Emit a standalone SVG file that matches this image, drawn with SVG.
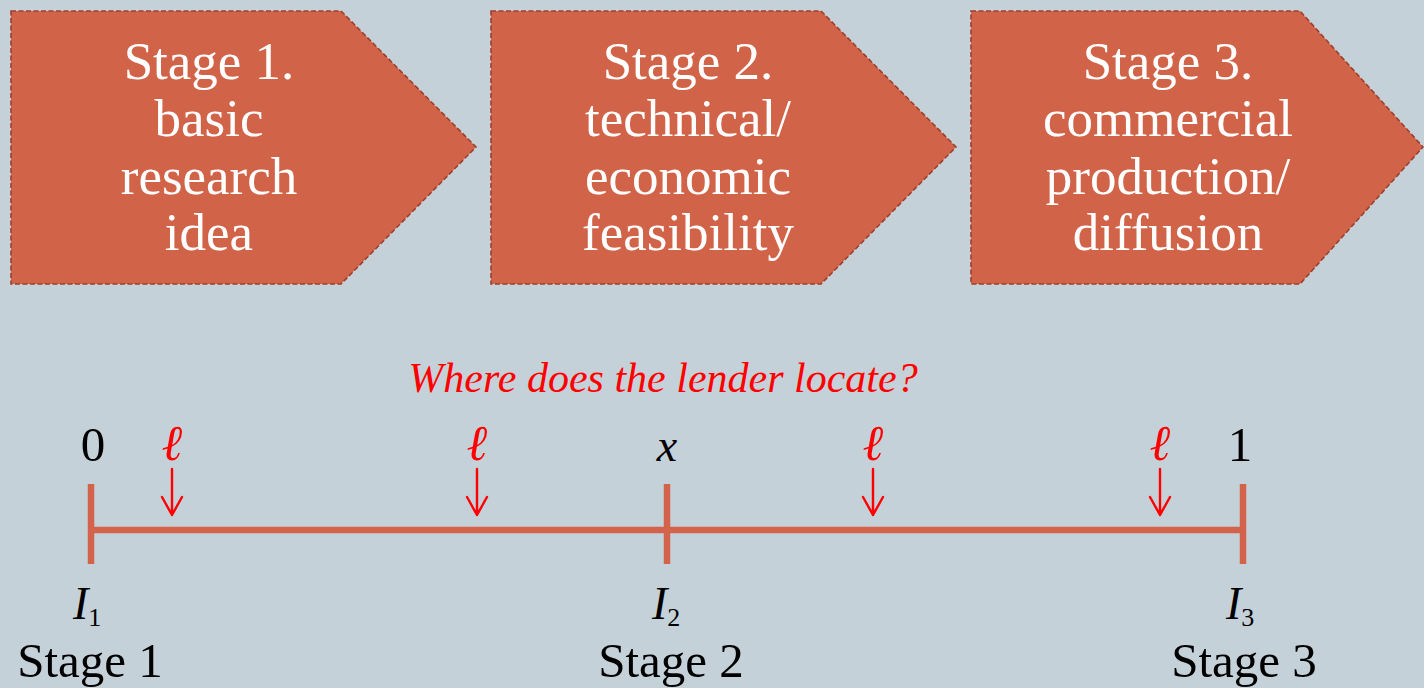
<svg xmlns="http://www.w3.org/2000/svg" width="1424" height="688" viewBox="0 0 1424 688">
  <defs>
    <style>
      .stage { fill: #D16349; stroke: #9E3F2C; stroke-width: 1.6; stroke-dasharray: 5 2.5; }
      .stage-text { font-family: "Liberation Serif", "Times New Roman", serif; font-size: 53px; fill: #FFFFFF; text-anchor: middle; }
      .axis { stroke: #D3644B; stroke-width: 6.5; fill: none; }
      .lbl { font-family: "Liberation Serif", "Times New Roman", serif; font-size: 49px; fill: #000000; text-anchor: middle; }
      .math { font-family: "Liberation Serif", "Times New Roman", serif; font-style: italic; font-size: 46px; fill: #000000; }
      .sub { font-family: "Liberation Serif", "Times New Roman", serif; font-style: normal; font-size: 26px; }
      .ell { font-family: "Liberation Serif", "DejaVu Serif", serif; font-style: italic; font-size: 50px; fill: #FF0000; text-anchor: middle; }
      .pointer { stroke: #FF0000; stroke-width: 2.4; fill: none; stroke-linecap: round; stroke-linejoin: round; }
      .question { font-family: "Liberation Serif", "Times New Roman", serif; font-style: italic; font-size: 42px; fill: #FF0000; text-anchor: middle; }
    </style>
  </defs>

  <rect width="1424" height="688" fill="#C5D1D8"/>

  <!-- stage chevrons -->
  <g id="stage1">
    <polygon class="stage" points="11,11 341,11 476,147 341,284 11,284"/>
    <text class="stage-text" x="209" y="79">Stage 1.</text>
    <text class="stage-text" x="209" y="136">basic</text>
    <text class="stage-text" x="209" y="194">research</text>
    <text class="stage-text" x="209" y="250">idea</text>
  </g>
  <g id="stage2">
    <polygon class="stage" points="491,11 821,11 956,147 821,284 491,284"/>
    <text class="stage-text" x="688" y="79">Stage 2.</text>
    <text class="stage-text" x="688" y="136">technical/</text>
    <text class="stage-text" x="688" y="194">economic</text>
    <text class="stage-text" x="688" y="250">feasibility</text>
  </g>
  <g id="stage3">
    <polygon class="stage" points="971,11 1300,11 1423,147 1300,284 971,284"/>
    <text class="stage-text" x="1168" y="79">Stage 3.</text>
    <text class="stage-text" x="1168" y="136">commercial</text>
    <text class="stage-text" x="1168" y="194">production/</text>
    <text class="stage-text" x="1168" y="250">diffusion</text>
  </g>

  <!-- question -->
  <text id="question" class="question" x="663" y="392">Where does the lender locate?</text>

  <!-- timeline axis -->
  <g id="connectors">
    <line class="axis" x1="91" y1="530" x2="1243" y2="530"/>
    <line class="axis" x1="91" y1="484" x2="91" y2="564"/>
    <line class="axis" x1="667" y1="484" x2="667" y2="564"/>
    <line class="axis" x1="1243" y1="484" x2="1243" y2="564"/>
  </g>

  <!-- axis labels above -->
  <g id="top-labels">
    <text class="lbl" x="93" y="461">0</text>
    <text class="math" x="667" y="461" text-anchor="middle">x</text>
    <text class="lbl" x="1240" y="461">1</text>
  </g>

  <!-- candidate lender positions -->
  <g id="lender-marks">
    <text class="ell" x="172" y="460">ℓ</text>
    <path class="pointer" d="M172,469 V515 M162,497 L172,515 L182,497"/>
    <text class="ell" x="477" y="460">ℓ</text>
    <path class="pointer" d="M477,469 V515 M467,497 L477,515 L487,497"/>
    <text class="ell" x="873" y="460">ℓ</text>
    <path class="pointer" d="M873,469 V515 M863,497 L873,515 L883,497"/>
    <text class="ell" x="1160" y="460">ℓ</text>
    <path class="pointer" d="M1160,469 V515 M1150,497 L1160,515 L1170,497"/>
  </g>

  <!-- stage markers below -->
  <g id="marker1">
    <text class="math" x="73" y="619">I<tspan class="sub" dy="7">1</tspan></text>
    <text class="lbl" x="90" y="677">Stage 1</text>
  </g>
  <g id="marker2">
    <text class="math" x="652" y="619">I<tspan class="sub" dy="7">2</tspan></text>
    <text class="lbl" x="671" y="677">Stage 2</text>
  </g>
  <g id="marker3">
    <text class="math" x="1226" y="619">I<tspan class="sub" dy="7">3</tspan></text>
    <text class="lbl" x="1244" y="677">Stage 3</text>
  </g>
</svg>
